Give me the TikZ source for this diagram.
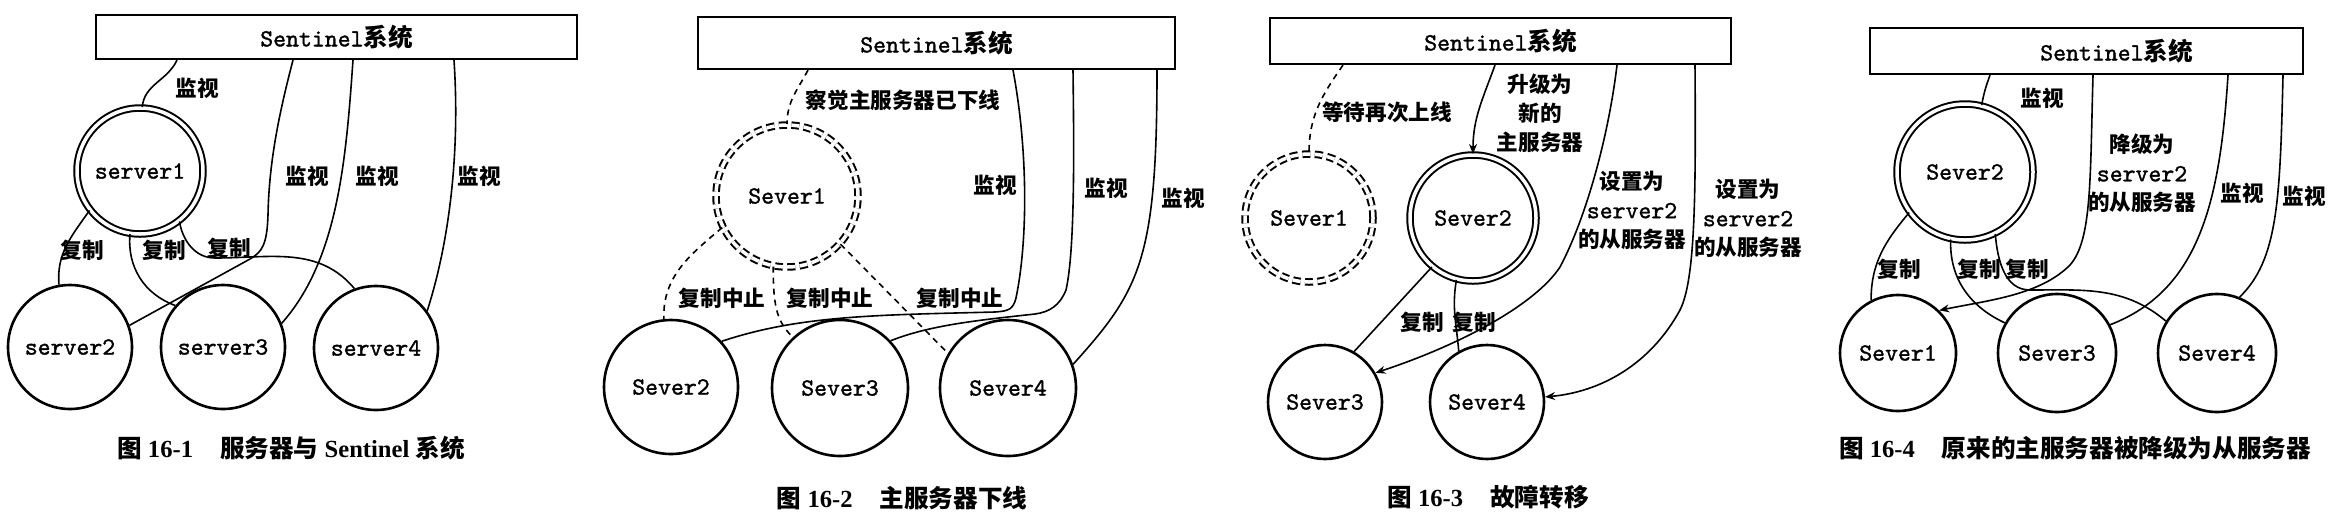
\documentclass[tikz,border=0pt]{standalone}
\usepackage{fontspec}
\setmainfont{Liberation Serif}
\newfontfamily\cjk{Noto Sans CJK SC}
\newfontfamily\mono{lmmono10-regular}[Extension=.otf, FakeBold=1.3]
\usetikzlibrary{arrows.meta}
\newcommand\zh{\cjk\bfseries}
\newcommand\ttx[1]{{\fontsize{12.3}{14.5}\selectfont\mono\mdseries #1}}
\begin{document}
\begin{tikzpicture}[x=0.5pt,y=-0.5pt,
 srv/.style={circle, draw, line width=1.3pt, inner sep=0pt, font=\fontsize{12.3}{14}\selectfont\mono},
 master/.style={circle, draw, line width=1pt, double, double distance=1.75pt, inner sep=0pt, font=\fontsize{12.3}{14}\selectfont\mono},
 offline/.style={master, dash pattern=on 4pt off 2.2pt},
 sbox/.style={rectangle, draw, line width=1.1pt, inner sep=0pt, font=\fontsize{12.3}{14}\selectfont\mono},
 lbl/.style={inner sep=0pt, align=center, font=\fontsize{10.8}{14.5}\selectfont\zh},
 figcap/.style={inner sep=0pt, font=\fontsize{12.3}{14}\selectfont\bfseries},
 link/.style={line width=0.8pt},
 dlink/.style={link, dash pattern=on 3pt off 2.5pt},
 alink/.style={link, -{Stealth[length=5pt,width=4pt]}}
]
\useasboundingbox (0,0) rectangle (2340,526);

% ---------------- Panel 1 ----------------
\node[sbox, minimum width=240.5pt, minimum height=22pt] (b1) at (336.5,37) {Sentinel{\zh 系统}};
\node[master, minimum size=63pt] (p1s1) at (140,171) {server1};
\node[srv, minimum size=62pt] (p1s2) at (70,347) {server2};
\node[srv, minimum size=62pt] (p1s3) at (223,347) {server3};
\node[srv, minimum size=62pt] (p1s4) at (376,348) {server4};

\draw[link] (177,0 |- b1.south) to[out=-115,in=85] (p1s1.88);
\draw[link] (293,0 |- b1.south) .. controls (280,110) and (269,160) .. (268,215) .. controls (267,245) and (262,252) .. (250,259) -- (p1s2.20);
\draw[link] (353,0 |- b1.south) .. controls (346,160) and (338,260) .. (p1s3.22);
\draw[link] (454,0 |- b1.south) .. controls (460,150) and (450,240) .. (p1s4.36);
\draw[link] (p1s1.-142) to[out=-125,in=95] (p1s2.100);
\draw[link] (p1s1.-99) to[out=-95,in=160] (p1s3.139);
\draw[link] (p1s1.-52) to[out=-80,in=180] (215,258) to[out=0,in=130] (p1s4.110);

\node[lbl] (p1l1) at (197,88) {监视};
\node[lbl] (p1l2) at (307,176) {监视};
\node[lbl] (p1l3) at (377,176) {监视};
\node[lbl] (p1l4) at (479,176) {监视};
\node[lbl] (p1l5) at (82,250) {复制};
\node[lbl] (p1l6) at (164,250) {复制};
\node[lbl] (p1l7) at (229,248) {复制};
\node[figcap] (p1c) at (291,448) {{\zh 图} 16-1\hspace{1.1em}{\zh 服务器与} Sentinel {\zh 系统}};

% ---------------- Panel 2 ----------------
\node[sbox, minimum width=238.5pt, minimum height=26pt] (b2) at (936.5,43) {Sentinel{\zh 系统}};
\node[offline, minimum size=71pt] (p2s1) at (787,196) {Sever1};
\node[srv, minimum size=67pt] (p2s2) at (671,387) {Sever2};
\node[srv, minimum size=68pt] (p2s3) at (840,388) {Sever3};
\node[srv, minimum size=68pt] (p2s4) at (1008,388) {Sever4};

\draw[dlink] (808,0 |- b2.south) to[out=-118,in=90] (p2s1.north);
\draw[dlink] (p2s1.-154) to[out=-140,in=92] (p2s2.96);
\draw[dlink] (p2s1.-101) .. controls (773,310) and (778,322) .. (p2s3.133);
\draw[dlink] (p2s1.-42) -- (p2s4.150);
\draw[link] (1013,0 |- b2.south) .. controls (1028,150) and (1028,240) .. (1016,298) .. controls (1013,310) and (1008,311) .. (995,312) .. controls (880,315) and (800,315) .. (p2s2.42);
\draw[link] (1073,0 |- b2.south) .. controls (1074,150) and (1075,250) .. (1066,290) .. controls (1060,305) and (1050,312) .. (1035,314) .. controls (980,320) and (930,325) .. (p2s3.43);
\draw[link] (1157,0 |- b2.south) .. controls (1157,260) and (1140,290) .. (p2s4.20);

\node[lbl] (p2l1) at (903,100) {察觉主服务器已下线};
\node[lbl] (p2l2) at (722,298) {复制中止};
\node[lbl] (p2l3) at (830,298) {复制中止};
\node[lbl] (p2l4) at (960,298) {复制中止};
\node[lbl] (p2l5) at (995,185) {监视};
\node[lbl] (p2l6) at (1106,188) {监视};
\node[lbl] (p2l7) at (1183,198) {监视};
\node[figcap] (p2c) at (902,498) {{\zh 图} 16-2\hspace{1.1em}{\zh 主服务器下线}};

% ---------------- Panel 3 ----------------
\node[sbox, minimum width=230.5pt, minimum height=23pt] (b3) at (1500.5,41) {Sentinel{\zh 系统}};
\node[offline, minimum size=64pt] (p3s1) at (1309,218) {Sever1};
\node[master, minimum size=63pt] (p3s2) at (1473,218) {Sever2};
\node[srv, minimum size=57pt] (p3s3) at (1325,402) {Sever3};
\node[srv, minimum size=57pt] (p3s4) at (1487,402) {Sever4};

\draw[dlink] (1343,0 |- b3.south) to[out=-125,in=90] (p3s1.north);
\draw[alink] (1495,0 |- b3.south) to[out=-110,in=90] (p3s2.north);
\draw[alink] (1617,0 |- b3.south) .. controls (1608,140) and (1585,220) .. (1560,267) .. controls (1535,305) and (1460,345) .. (p3s3.30);
\draw[alink] (1695,0 |- b3.south) .. controls (1696,200) and (1695,280) .. (1680,310) .. controls (1650,365) and (1600,392) .. (p3s4.5);
\draw[link] (p3s2.-130) -- (p3s3.60);
\draw[link] (p3s2.-105) to[out=-100,in=95] (p3s4.119);

\node[lbl] (p3l1) at (1387,112) {等待再次上线};
\node[lbl] (p3l2) at (1540,113) {升级为\\新的\\主服务器};
\node[lbl] (p3l3) at (1632,210) {设置为\\\ttx{server2}\\的从服务器};
\node[lbl] (p3l4) at (1748,218) {设置为\\\ttx{server2}\\的从服务器};
\node[lbl] (p3l5) at (1422,322) {复制};
\node[lbl] (p3l6) at (1474,322) {复制};
\node[figcap] (p3c) at (1488,497) {{\zh 图} 16-3\hspace{1.1em}{\zh 故障转移}};

% ---------------- Panel 4 ----------------
\node[sbox, minimum width=216.5pt, minimum height=23pt] (b4) at (2086.5,51) {\hspace*{30pt}Sentinel{\zh 系统}};
\node[master, minimum size=68pt] (p4s2) at (1965,172) {Sever2};
\node[srv, minimum size=58pt] (p4s1) at (1898,353) {Sever1};
\node[srv, minimum size=59pt] (p4s3) at (2057,353) {Sever3};
\node[srv, minimum size=59pt] (p4s4) at (2217,353) {Sever4};

\draw[link] (1990,0 |- b4.south) to[out=-110,in=80] (p4s2.76);
\draw[alink] (2093,0 |- b4.south) .. controls (2090,180) and (2092,240) .. (2070,265) .. controls (2040,295) and (1990,300) .. (p4s1.46);
\draw[link] (2228,0 |- b4.south) .. controls (2220,200) and (2200,290) .. (p4s3.28);
\draw[link] (2283,0 |- b4.south) .. controls (2280,200) and (2278,260) .. (p4s4.68);
\draw[link] (p4s2.-144) to[out=-130,in=90] (p4s1.117);
\draw[link] (p4s2.-102) to[out=-92,in=155] (p4s3.150);
\draw[link] (p4s2.-64) to[out=-85,in=180] (2030,290) to[out=0,in=140] (p4s4.148);

\node[lbl] (p4l1) at (2042,98) {监视};
\node[lbl] (p4l2) at (2142,173) {降级为\\\ttx{server2}\\的从服务器};
\node[lbl] (p4l3) at (2242,193) {监视};
\node[lbl] (p4l4) at (2304,196) {监视};
\node[lbl] (p4l5) at (1899,269) {复制};
\node[lbl] (p4l6) at (1979,269) {复制};
\node[lbl] (p4l7) at (2027,269) {复制};
\node[figcap] (p4c) at (2075,448) {{\zh 图} 16-4\hspace{1.1em}{\zh 原来的主服务器被降级为从服务器}};
\end{tikzpicture}
\end{document}
